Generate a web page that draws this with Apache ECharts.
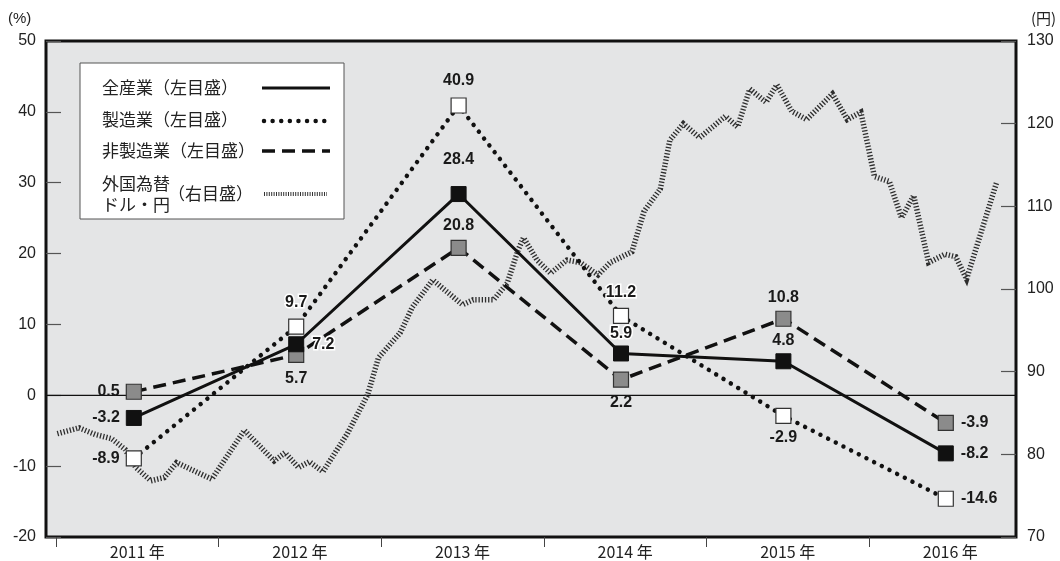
<!DOCTYPE html>
<html>
<head>
<meta charset="utf-8">
<script src="https://cdn.jsdelivr.net/npm/echarts@6/dist/echarts.min.js"></script>
<style>
  html, body { margin: 0; padding: 0; background: #ffffff; }
  #chart { width: 1060px; height: 561px; }
</style>
</head>
<body>
<div id="chart"></div>
<script>
// Fiscal years on the horizontal axis
const years = ['2011 年', '2012 年', '2013 年', '2014 年', '2015 年', '2016 年'];

// Year-on-year change, % (left scale)
const allIndustries    = [-3.2, 7.2, 28.4, 5.9, 4.8, -8.2];
const manufacturing    = [-8.9, 9.7, 40.9, 11.2, -2.9, -14.6];
const nonManufacturing = [0.5, 5.7, 20.8, 2.2, 10.8, -3.9];

// USD/JPY rate (right scale): months elapsed since Jan 2011, and yen per dollar
const fxMonths = [0.1, 1.7, 2.9, 4.1, 5.1, 5.9, 7.0, 8.0, 8.9, 11.5,
                  13.9, 16.1, 16.9, 17.9, 18.7, 19.7, 21.5, 23.0, 23.8, 25.4,
                  26.3, 27.4, 27.8, 28.9, 30.0, 30.8, 32.3, 33.3, 34.1, 34.5,
                  35.5, 36.5, 37.7, 38.7, 40.0, 40.9, 42.5, 43.4, 44.6, 45.3,
                  46.3, 47.5, 49.4, 50.3, 51.2, 52.4, 53.2, 54.3, 55.4, 57.3,
                  58.4, 59.4, 60.4, 61.5, 62.4, 63.3, 64.4, 65.6, 66.4, 67.2,
                  69.4];
const fxYen = [82.5, 83.2, 82.4, 81.9, 80.6, 78.4, 76.8, 77.2, 79.0, 77.0,
               82.9, 79.2, 80.2, 78.4, 79.1, 77.9, 82.5, 87.2, 91.7, 94.7,
               97.8, 100.2, 101.1, 99.6, 98.1, 98.7, 98.7, 100.7, 104.7, 106.2,
               103.5, 101.9, 103.5, 103.2, 101.7, 103.2, 104.5, 109.4, 112.1, 118.0,
               120.0, 118.3, 120.9, 119.6, 124.2, 122.6, 124.7, 121.5, 120.5, 123.6,
               120.5, 121.4, 113.6, 113.0, 108.6, 111.3, 103.2, 104.2, 103.9, 101.2,
               112.8];

// Axis ranges
const leftMin = -20, leftMax = 50, leftStep = 10;
const rightMin = 70, rightMax = 130, rightStep = 10;
const monthsSpan = 72;
const yearTickMonths  = [0, 12, 24, 36, 48, 60];
const yearLabelMonths = [6, 18, 30, 42, 54, 66];

const seriesNames = ['全産業（左目盛）', '製造業（左目盛）', '非製造業（左目盛）', '外国為替ドル・円（右目盛）'];

// Where each value label sits relative to its marker
const allPos  = [['left', 6], ['right', 8], ['top', 18], ['top', 4], ['top', 5], ['right', 7]];
const mfgPos  = [['left', 6], ['top', 8], ['top', 9], ['top', 7], ['bottom', 6], ['right', 7]];
const nonPos  = [['left', 6], ['bottom', 8], ['top', 6], ['bottom', 7], ['top', 5], ['right', 7]];
const allHalo = [false, true, false, true, false, false];
const mfgHalo = [false, true, false, true, false, false];
const nonHalo = [false, false, false, false, false, false];

const numFont = '"Liberation Sans", Arial, Helvetica, sans-serif';
const jpFont = '"Noto Sans CJK JP", "Noto Sans", sans-serif';

function withLabels(values, pos, halo) {
  return values.map((v, i) => ({
    value: v,
    label: {
      position: pos[i][0],
      distance: pos[i][1],
      textBorderColor: halo[i] ? '#ffffff' : 'transparent',
      textBorderWidth: halo[i] ? 3 : 0
    }
  }));
}

const valueLabel = {
  show: true,
  fontFamily: numFont,
  fontSize: 16,
  fontWeight: 'bold',
  color: '#1a1a1a',
  formatter: p => p.value.toFixed(1)
};

const dotted = [0.01, 8.6];
const dashed = [13, 7];
const hatch = [1.3, 1.9];

const chart = echarts.init(document.getElementById('chart'), null, { renderer: 'canvas' });

chart.setOption({
  animation: false,
  backgroundColor: '#ffffff',
  grid: [
    // framed plot area carrying both value scales
    { left: 46, top: 41, width: 970, height: 496, show: true,
      backgroundColor: '#e4e5e6', borderColor: '#111111', borderWidth: 3 },
    // annual series (category centres)
    { left: 52.6, top: 41, width: 974.4, height: 496, show: false },
    // monthly exchange-rate series and the year ticks
    { left: 56, top: 41, width: 975.6, height: 496, show: false }
  ],
  xAxis: [
    { gridIndex: 0, type: 'value', min: 0, max: 1, show: false },
    { gridIndex: 1, type: 'category', data: years, boundaryGap: true, show: false },
    {
      gridIndex: 2, type: 'value', min: 0, max: monthsSpan,
      axisLine: { show: false },
      splitLine: { show: false },
      axisTick: { show: true, inside: false, length: 10, customValues: yearTickMonths,
                  lineStyle: { color: '#444', width: 1 } },
      axisLabel: { customValues: yearLabelMonths, margin: 7,
                   formatter: v => years[Math.round((v - 6) / 12)],
                   fontFamily: jpFont, fontSize: 16, color: '#222' }
    }
  ],
  yAxis: [
    {
      gridIndex: 0, type: 'value', position: 'left',
      min: leftMin, max: leftMax, interval: leftStep,
      axisLine: { show: false },
      axisTick: { show: true, inside: true, length: 15, lineStyle: { color: '#555', width: 1.2 } },
      axisLabel: { margin: 10, fontFamily: numFont, fontSize: 16, color: '#222' },
      splitLine: { show: false }
    },
    {
      gridIndex: 0, type: 'value', position: 'right',
      min: rightMin, max: rightMax, interval: rightStep,
      axisLine: { show: false },
      axisTick: { show: true, inside: true, length: 15, lineStyle: { color: '#555', width: 1.2 } },
      axisLabel: { margin: 11, fontFamily: numFont, fontSize: 16, color: '#222' },
      splitLine: { show: false }
    },
    { gridIndex: 1, type: 'value', min: leftMin, max: leftMax, interval: leftStep, show: false },
    { gridIndex: 2, type: 'value', min: rightMin, max: rightMax, interval: rightStep, show: false }
  ],
  series: [
    {
      // zero reference line across the frame
      name: 'zero', type: 'line', xAxisIndex: 0, yAxisIndex: 0,
      data: [[0, 0], [1, 0]], symbol: 'none', silent: true, z: 1,
      lineStyle: { color: '#111', width: 1.2 }
    },
    {
      name: seriesNames[3], type: 'line', xAxisIndex: 2, yAxisIndex: 3,
      data: fxMonths.map((m, i) => [m, fxYen[i]]),
      symbol: 'none', silent: true, z: 2,
      lineStyle: { color: '#2e2e2e', width: 5.5, type: hatch, cap: 'butt', join: 'miter' }
    },
    {
      name: seriesNames[2], type: 'line', xAxisIndex: 1, yAxisIndex: 2,
      data: withLabels(nonManufacturing, nonPos, nonHalo),
      symbol: 'rect', symbolSize: 15, z: 3,
      lineStyle: { color: '#111', width: 3.5, type: dashed },
      itemStyle: { color: '#8b8b8b', borderColor: '#333', borderWidth: 1.2 },
      label: valueLabel
    },
    {
      name: seriesNames[1], type: 'line', xAxisIndex: 1, yAxisIndex: 2,
      data: withLabels(manufacturing, mfgPos, mfgHalo),
      symbol: 'rect', symbolSize: 15, z: 4,
      lineStyle: { color: '#111', width: 4.5, type: dotted, cap: 'round' },
      itemStyle: { color: '#ffffff', borderColor: '#333', borderWidth: 1.2 },
      label: valueLabel
    },
    {
      name: seriesNames[0], type: 'line', xAxisIndex: 1, yAxisIndex: 2,
      data: withLabels(allIndustries, allPos, allHalo),
      symbol: 'rect', symbolSize: 15, z: 5,
      lineStyle: { color: '#111', width: 3 },
      itemStyle: { color: '#111', borderColor: '#111', borderWidth: 1 },
      label: valueLabel
    }
  ],
  graphic: [
    // unit captions above the two scales
    { type: 'text', left: 8, top: 11, z: 50,
      style: { text: '(%)', font: '15px ' + numFont, fill: '#222' } },
    { type: 'text', left: 1031, top: 11, z: 50,
      style: { text: '(円)', font: '15px ' + jpFont, fill: '#222' } },
    // key box
    {
      type: 'group', z: 100,
      children: [
        { type: 'rect', shape: { x: 80, y: 63, width: 264, height: 156 },
          style: { fill: '#ffffff', stroke: '#555', lineWidth: 1 } },
        { type: 'text', style: { text: seriesNames[0], x: 102, y: 88, font: '17px ' + jpFont, fill: '#222', verticalAlign: 'middle' } },
        { type: 'text', style: { text: seriesNames[1], x: 102, y: 120, font: '17px ' + jpFont, fill: '#222', verticalAlign: 'middle' } },
        { type: 'text', style: { text: seriesNames[2], x: 102, y: 151, font: '17px ' + jpFont, fill: '#222', verticalAlign: 'middle' } },
        { type: 'text', style: { text: '外国為替', x: 102, y: 184, font: '17px ' + jpFont, fill: '#222', verticalAlign: 'middle' } },
        { type: 'text', style: { text: 'ドル・円', x: 102, y: 205, font: '17px ' + jpFont, fill: '#222', verticalAlign: 'middle' } },
        { type: 'text', style: { text: '（右目盛）', x: 168, y: 194, font: '17px ' + jpFont, fill: '#222', verticalAlign: 'middle' } },
        { type: 'line', shape: { x1: 262, y1: 88, x2: 330, y2: 88 },
          style: { stroke: '#111', lineWidth: 3 } },
        { type: 'line', shape: { x1: 264, y1: 121, x2: 330, y2: 121 },
          style: { stroke: '#111', lineWidth: 4.5, lineDash: dotted, lineCap: 'round' } },
        { type: 'line', shape: { x1: 262, y1: 151, x2: 330, y2: 151 },
          style: { stroke: '#111', lineWidth: 3.5, lineDash: dashed } },
        { type: 'line', shape: { x1: 264, y1: 194, x2: 327, y2: 194 },
          style: { stroke: '#333', lineWidth: 4, lineDash: [1, 1.4] } }
      ]
    }
  ]
});
</script>
</body>
</html>
